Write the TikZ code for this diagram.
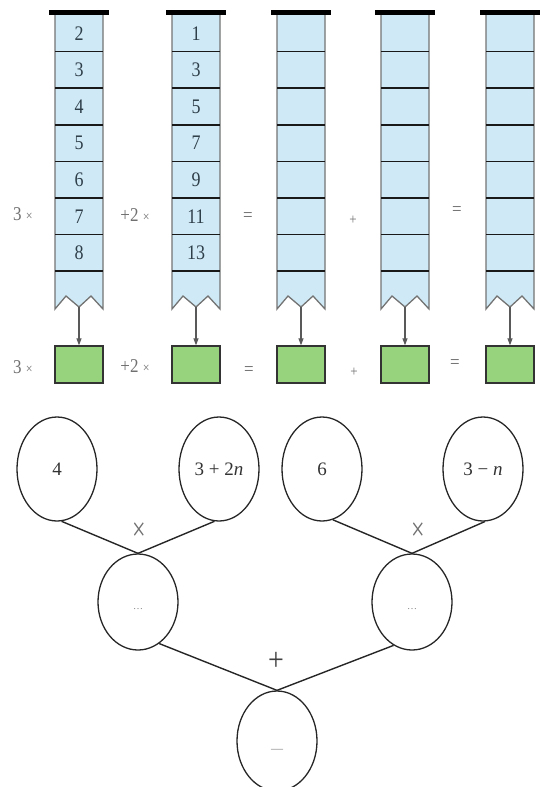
\documentclass[tikz,border=0pt]{standalone}
\usepackage{fontspec}
\setmainfont{Liberation Serif}
\usetikzlibrary{shapes.geometric,arrows.meta}
\definecolor{cellblue}{HTML}{CFEAF6}
\definecolor{boxgreen}{HTML}{97D37C}
\definecolor{labgray}{HTML}{707070}
\definecolor{numink}{HTML}{2F3F4A}
\begin{document}
\begin{tikzpicture}[x=1pt,y=-1pt,
  sideline/.style={draw=black!55, line width=1.3pt, line join=miter},
  divider/.style={draw=black!90, line width=1.6pt},
  topbar/.style={draw=black, line width=5pt},
  flow/.style={draw=black!65, line width=1.1pt, -{Triangle[length=7pt,width=5pt]}},
  greenbox/.style={draw=black!80, fill=boxgreen, line width=1.3pt,
    minimum width=48pt, minimum height=37pt, inner sep=0pt},
  numtxt/.style={font=\fontsize{18}{18}\selectfont, text=numink, inner sep=0pt, yscale=1.15},
  optxt/.style={font=\fontsize{17}{17}\selectfont, text=labgray, inner sep=0pt, yscale=1.15},
  circ/.style={ellipse, draw=black!85, line width=1.3pt, minimum width=80pt,
    minimum height=104pt, inner sep=0pt, font=\fontsize{19}{19}\selectfont, text=black!80},
  link/.style={draw=black!85, line width=1.4pt},
  dots/.style={font=\fontsize{10}{10}\selectfont, text=black!50, inner sep=0pt}
]
\useasboundingbox (0,0) rectangle (539,787);

% columns of cells with torn bottom edge, each feeding a green box
\foreach \i/\x in {1/55,2/172,3/277,4/381,5/486} {
  \fill[cellblue] (\x,15) -- (\x+48,15) -- (\x+48,309) -- (\x+36,296)
    -- (\x+24,307) -- (\x+11,296) -- (\x,309) -- cycle;
  \draw[sideline] (\x,15) -- (\x,309) -- (\x+11,296) -- (\x+24,307)
    -- (\x+36,296) -- (\x+48,309) -- (\x+48,15);
  \foreach \k in {1,...,7}
    \draw[divider] (\x,15+36.6*\k) -- (\x+48,15+36.6*\k);
  \draw[topbar] (\x-6,12.5) -- (\x+54,12.5);
  \coordinate (v\i) at (\x+24,307);
  \node[greenbox] (g\i) at (\x+24,364.5) {};
  \draw[flow] (v\i) -- (g\i);
}

% cell contents
\foreach \n [count=\k] in {2,...,8}
  \node[numtxt] (a\k) at (79,15+36.6*\k-18.3) {\n};
\foreach \n [count=\k] in {1,3,5,7,9,11,13}
  \node[numtxt] (b\k) at (196,15+36.6*\k-18.3) {\n};

% operators between the columns
\node[optxt] (t1) at (23,214) {3 {\fontsize{12}{12}\selectfont ×}};
\node[optxt] (t2) at (135,215) {+2 {\fontsize{12}{12}\selectfont ×}};
\node[optxt] (t3) at (248,217) {=};
\node[optxt, font=\fontsize{13}{13}\selectfont] (t4) at (353,220) {+};
\node[optxt] (t5) at (457,211) {=};

% operators between the boxes
\node[optxt] (r1) at (23,367) {3 {\fontsize{12}{12}\selectfont ×}};
\node[optxt] (r2) at (135,366) {+2 {\fontsize{12}{12}\selectfont ×}};
\node[optxt] (r3) at (249,371) {=};
\node[optxt, font=\fontsize{13}{13}\selectfont] (r4) at (354,372) {+};
\node[optxt] (r5) at (455,364) {=};

% expression tree
\node[circ] (e1) at (57,469) {4};
\node[circ] (e2) at (219,469) {3 + 2\textit{n}};
\node[circ] (e3) at (322,469) {6};
\node[circ] (e4) at (483,469) {3 − \textit{n}};
\node[circ, minimum height=96pt] (m1) at (138,602) {};
\node[circ, minimum height=96pt] (m2) at (412,602) {};
\node[circ, minimum height=100pt] (bt) at (277,741) {};
\node[dots] (d1) at ([yshift=-7pt]m1.center) {…};
\node[dots] (d2) at ([yshift=-7pt]m2.center) {…};
\node[dots, font=\fontsize{12}{12}\selectfont] (d3) at ([yshift=-10pt]bt.center) {—};

\draw[link] (e1.-85) -- (m1.north);
\draw[link] (e2.-95) -- (m1.north);
\draw[link] (e3.-78) -- (m2.north);
\draw[link] (e4.-88) -- (m2.north);
\draw[link] (m1.-63) -- (bt.north);
\draw[link] (m2.-113) -- (bt.north);

\node[optxt, font=\fontsize{24}{24}\selectfont, yscale=1.2] (x1) at (139,532) {×};
\node[optxt, font=\fontsize{24}{24}\selectfont, yscale=1.2] (x2) at (418,532) {×};
\node[optxt, font=\fontsize{28}{28}\selectfont, text=black!75] (p1) at (276,661) {+};
\end{tikzpicture}
\end{document}
